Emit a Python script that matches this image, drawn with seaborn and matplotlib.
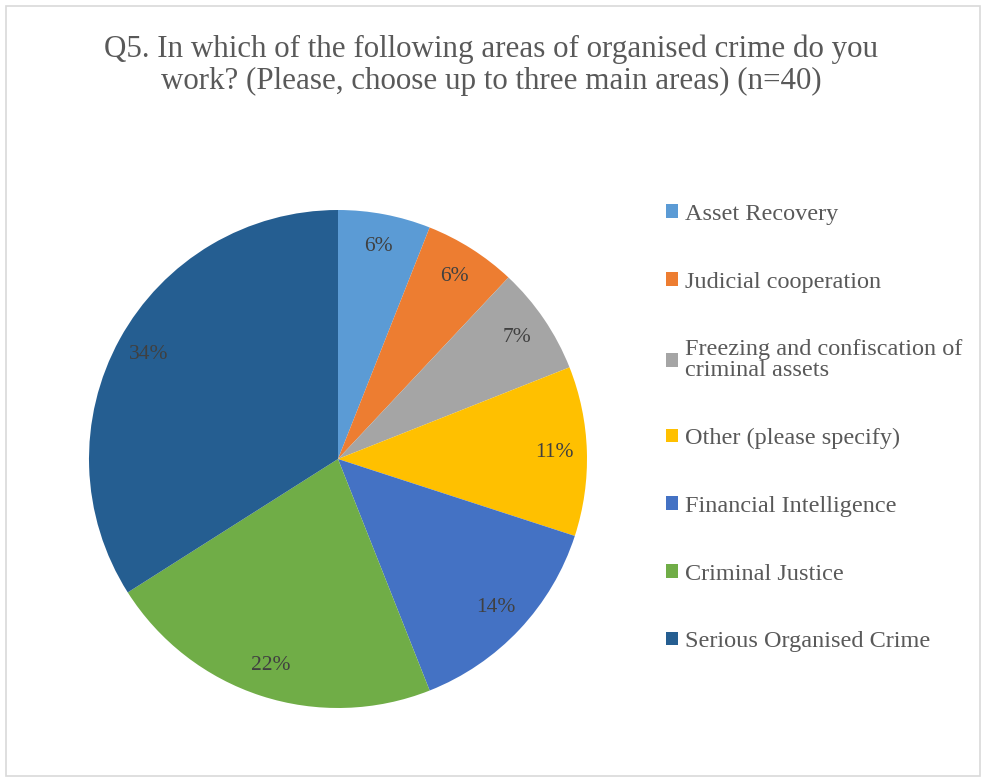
import matplotlib
matplotlib.use("Agg")
import matplotlib.pyplot as plt
import seaborn as sns
import numpy as np
from matplotlib.patches import Rectangle

categories = ["Asset Recovery", "Judicial cooperation",
              "Freezing and confiscation of\ncriminal assets",
              "Other (please specify)", "Financial Intelligence",
              "Criminal Justice", "Serious Organised Crime"]
values = [6, 6, 7, 11, 14, 22, 34]
labels_pct = ["6%", "6%", "7%", "11%", "14%", "22%", "34%"]
colors = ["#5B9BD5", "#ED7D31", "#A5A5A5", "#FFC000", "#4472C4", "#70AD47", "#255E91"]
title = "Q5. In which of the following areas of organised crime do you\nwork? (Please, choose up to three main areas) (n=40)"

sns.set_theme(style="white")
plt.rcParams['font.family'] = ['Liberation Serif', 'DejaVu Serif']

fig = plt.figure(figsize=(9.83, 7.82), dpi=100)
fig.patch.set_facecolor("white")
fig.patches.append(Rectangle((6/983, 6/782), 974/983, 770/782, transform=fig.transFigure,
                             fill=False, edgecolor="#D9D9D9", linewidth=1.2))

W, H = 983, 782
cx, cy, r = 338, 459, 249
ax = fig.add_axes([(cx - r) / W, (H - cy - r) / H, 2 * r / W, 2 * r / H])
pal = sns.color_palette(colors)
wedges, texts = ax.pie(values, colors=pal, startangle=90, counterclock=False,
                       wedgeprops=dict(linewidth=0))
for w, lab in zip(wedges, labels_pct):
    ang = np.deg2rad((w.theta1 + w.theta2) / 2)
    ax.text(0.87 * np.cos(ang), 0.87 * np.sin(ang), lab, ha="center", va="center",
            fontsize=15.5, color="#404040")
ax.set_xlim(-1, 1)
ax.set_ylim(-1, 1)
ax.set_aspect("equal")
ax.axis("off")

fig.text(0.5, 1 - 65.5 / H, title, ha="center", va="center", fontsize=22.3,
         color="#595959", linespacing=1.14)

leg = fig.legend(wedges, categories, loc="upper left",
                 bbox_to_anchor=(666 / W, 1 - 204 / H), frameon=False,
                 fontsize=17.5, labelcolor="#595959", handlelength=0.5,
                 handleheight=0.5, handletextpad=0.3, labelspacing=1.92,
                 borderpad=0, borderaxespad=0)
leg.get_texts()[2].set_linespacing(1.0)

fig.savefig("out.png", dpi=100)
